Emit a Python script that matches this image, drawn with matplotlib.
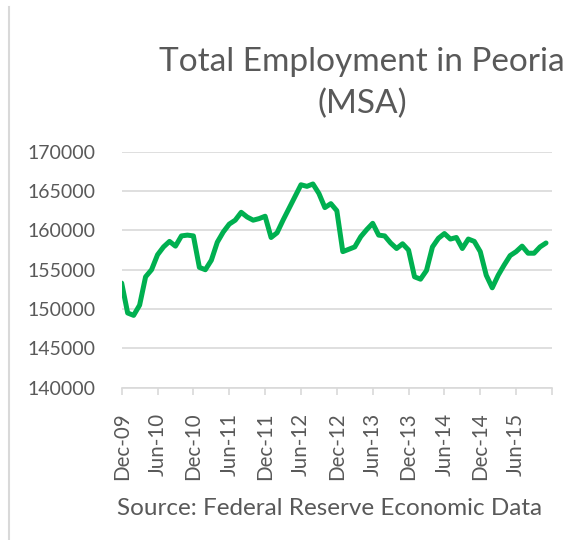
import matplotlib
matplotlib.use("Agg")
from matplotlib import pyplot as plt
from matplotlib.lines import Line2D

font = {
    'family': 'Lato',
}
matplotlib.rc('font', **font)

# monthly employment, Dec-09 .. Nov-15
employment = [
    153300, 149500, 149200, 150500, 154100, 155000, 156900, 157900, 158600, 158000,
    159300, 159400, 159300, 155300, 155000, 156200, 158500, 159800, 160800, 161300,
    162300, 161700, 161300, 161500, 161800, 159100, 159700, 161300, 162800, 164300,
    165800, 165600, 165900, 164700, 162900, 163400, 162500, 157300, 157600, 157900,
    159200, 160100, 160900, 159400, 159300, 158400, 157700, 158300, 157500, 154100,
    153800, 154900, 157900, 159000, 159600, 158900, 159100, 157700, 158900, 158600,
    157300, 154300, 152700, 154300, 155600, 156800, 157300, 158000, 157100, 157100,
    157900, 158400,
]
tick_labels = ["Dec-09", "Jun-10", "Dec-10", "Jun-11", "Dec-11", "Jun-12",
               "Dec-12", "Jun-13", "Dec-13", "Jun-14", "Dec-14", "Jun-15", ""]
y_ticks = [140000, 145000, 150000, 155000, 160000, 165000, 170000]

text_color = "#595959"
grid_color = "#D9D9D9"

fig = plt.figure(figsize=(5.71, 5.40), dpi=100)
ax = fig.add_axes([0.2131, 0.282, 0.7536, 0.437])

x = range(len(employment))
ax.plot(x, employment, color="#00B050", linewidth=3.6, solid_joinstyle="round",
        solid_capstyle="round")

ax.set_xlim(0, 72)
ax.set_ylim(140000, 170000)
ax.set_yticks(y_ticks)
ax.set_yticklabels([str(v) for v in y_ticks])
ax.set_xticks(range(0, 73, 6))
ax.set_xticklabels(tick_labels, rotation=90)

ax.grid(axis="y", color=grid_color, linewidth=1.2)
ax.set_axisbelow(True)
for side in ["top", "right", "left"]:
    ax.spines[side].set_visible(False)
ax.spines["bottom"].set_color(grid_color)
ax.spines["bottom"].set_linewidth(1.2)

ax.tick_params(axis="y", length=0, pad=19, labelsize=14, labelcolor=text_color)
ax.tick_params(axis="x", length=5, width=1.2, color=grid_color, pad=13,
               labelsize=14.8, labelcolor=text_color)

fig.text(0.634, 0.846, "Total Employment in Peoria\n(MSA)", ha="center", va="center",
         fontsize=24, color=text_color, linespacing=1.5)
fig.text(0.578, 0.059, "Source: Federal Reserve Economic Data", ha="center",
         va="center", fontsize=17.5, color=text_color)

# chart border on the left edge
fig.add_artist(Line2D([0.0158, 0.0158], [0.0, 0.987], transform=fig.transFigure,
                      color=grid_color, linewidth=1.5))

fig.savefig("out.png", dpi=100)
